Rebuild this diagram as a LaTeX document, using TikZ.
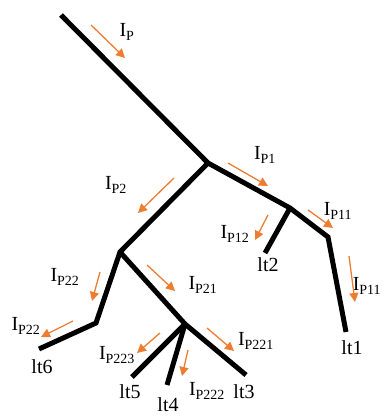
\documentclass[tikz,border=0pt]{standalone}
\usepackage{fontspec}
\setmainfont{Liberation Serif}
\usetikzlibrary{positioning, arrows.meta}

\definecolor{flowcol}{RGB}{237,125,49}
\newcommand{\cur}[1]{I\textsubscript{#1}}

\begin{document}
\begin{tikzpicture}[x=1pt, y=-1pt,
    wire/.style={line width=5pt, line join=miter},
    flow/.style={flowcol, line width=1.3pt, -{Triangle[length=9pt, width=9pt]}},
    lbl/.style={font=\fontsize{20}{22}\selectfont, inner sep=0pt}]
\useasboundingbox (0,0) rectangle (386,417);

% tree
\coordinate (top) at (61,15);
\coordinate (j0) at (208,163);
\coordinate (j1) at (290,208);
\coordinate (b1) at (328,237);
\coordinate (e1) at (346,332);
\coordinate (e2) at (265,253);
\coordinate (j2) at (120,252);
\coordinate (b6) at (96,323);
\coordinate (e6) at (39,349);
\coordinate (j3) at (185,324);
\coordinate (e3) at (246,375);
\coordinate (e5) at (132,377);
\coordinate (e4) at (167,385);

\draw[wire] (top) -- (j0) -- (j1) -- (b1) -- (e1);
\draw[wire] (j1) -- (e2);
\draw[wire] (j0) -- (j2) -- (b6) -- (e6);
\draw[wire] (j2) -- (j3) -- (e3);
\draw[wire] (j3) -- (e5);
\draw[wire] (j3) -- (e4);

% end labels
\node[lbl] (lt1) at (352,348) {lt1};
\node[lbl] (lt2) at (268,265) {lt2};
\node[lbl] (lt3) at (244,392) {lt3};
\node[lbl] (lt4) at (168,405) {lt4};
\node[lbl] (lt5) at (130,392) {lt5};
\node[lbl] (lt6) at (42,367) {lt6};

% currents
\node[lbl] (ip) at (127,32) {\cur{P}};
\node[lbl] (ip1) at (265,155) {\cur{P1}};
\node[lbl] (ip2) at (116,185) {\cur{P2}};
\node[lbl] (ip11a) at (338,211) {\cur{P11}};
\node[lbl] (ip12) at (235,234) {\cur{P12}};
\node[lbl] (ip11b) at (367,286) {\cur{P11}};
\node[lbl] (ip22a) at (65,277) {\cur{P22}};
\node[lbl] (ip21) at (203,285) {\cur{P21}};
\node[lbl] (ip22b) at (26,326) {\cur{P22}};
\node[lbl] (ip221) at (256,341) {\cur{P221}};
\node[lbl] (ip223) at (117,355) {\cur{P223}};
\node[lbl] (ip222) at (207,391) {\cur{P222}};

\draw[flow] (91,25) -- (125,58);
\draw[flow] (228,163) -- (268,186);
\draw[flow] (174,178) -- (138,213);
\draw[flow] (308,210) -- (333,228);
\draw[flow] (268,215) -- (255,240);
\draw[flow] (349,256) -- (355,302);
\draw[flow] (100,272) -- (92,301);
\draw[flow] (147,265) -- (175,291);
\draw[flow] (73,321) -- (41,337);
\draw[flow] (207,328) -- (234,351);
\draw[flow] (160,333) -- (137,353);
\draw[flow] (188,350) -- (182,376);

\end{tikzpicture}
\end{document}
